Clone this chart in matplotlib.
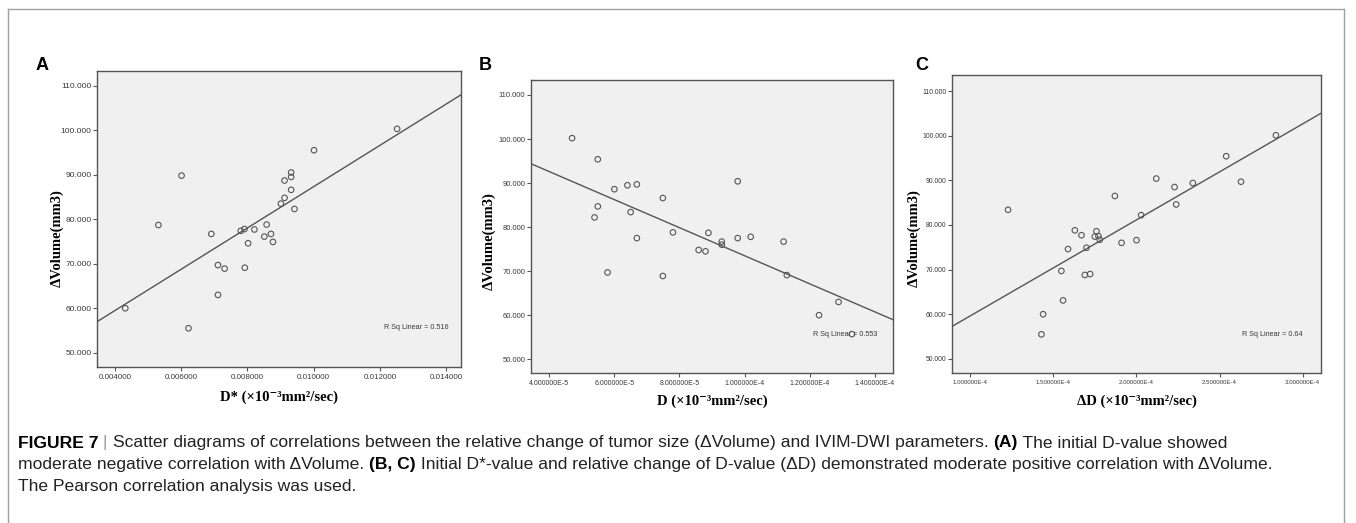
import numpy as np
import matplotlib
matplotlib.use("Agg")
import matplotlib.pyplot as plt
from matplotlib.ticker import FuncFormatter, MultipleLocator
from matplotlib.transforms import IdentityTransform
from matplotlib.lines import Line2D

# panel A: D* vs dVolume
a_x = [0.00431, 0.00531, 0.00601, 0.00622, 0.00691, 0.00711, 0.00711, 0.00731, 0.00780,
       0.00791, 0.00792, 0.00802, 0.00821, 0.00851, 0.00858, 0.00871, 0.00877, 0.00901,
       0.00912, 0.00912, 0.00932, 0.00932, 0.00932, 0.00942, 0.01001, 0.01252]
a_y = [60.0, 78.7, 89.8, 55.5, 76.7, 69.7, 63.0, 68.9, 77.4,
       77.8, 69.1, 74.6, 77.7, 76.1, 78.8, 76.7, 74.9, 83.5,
       84.8, 88.7, 89.5, 90.5, 86.6, 82.3, 95.5, 100.3]

# panel B: D vs dVolume
b_x = [4.70e-5, 5.49e-5, 6.00e-5, 6.40e-5, 6.69e-5, 5.49e-5, 5.39e-5, 6.50e-5, 7.49e-5,
       6.69e-5, 5.79e-5, 7.49e-5, 7.80e-5, 8.59e-5, 8.80e-5, 8.89e-5, 9.30e-5, 9.30e-5,
       9.79e-5, 9.79e-5, 1.019e-4, 1.120e-4, 1.130e-4, 1.229e-4, 1.289e-4, 1.330e-4]
b_y = [100.2, 95.4, 88.6, 89.5, 89.7, 84.7, 82.2, 83.4, 86.6,
       77.5, 69.7, 68.9, 78.8, 74.8, 74.5, 78.7, 76.7, 76.0,
       90.4, 77.5, 77.8, 76.7, 69.1, 60.0, 63.0, 55.7]

# panel C: delta D vs dVolume
c_x = [1.227e-4, 1.428e-4, 1.438e-4, 1.558e-4, 1.548e-4, 1.588e-4, 1.629e-4, 1.669e-4, 1.689e-4,
       1.721e-4, 1.699e-4, 1.749e-4, 1.759e-4, 1.771e-4, 1.779e-4, 1.870e-4, 1.910e-4, 2.000e-4,
       2.028e-4, 2.119e-4, 2.229e-4, 2.239e-4, 2.339e-4, 2.540e-4, 2.629e-4, 2.839e-4]
c_y = [83.4, 55.5, 60.0, 63.1, 69.7, 74.6, 78.8, 77.7, 68.8,
       69.0, 74.9, 77.4, 78.6, 77.5, 76.7, 86.5, 76.0, 76.6,
       82.2, 90.4, 88.5, 84.6, 89.4, 95.4, 89.7, 100.1]

r2_labels = ["R Sq Linear = 0.516", "R Sq Linear = 0.553", "R Sq Linear = 0.64"]
x_labels = ["D* (×10⁻³mm²/sec)", "D (×10⁻³mm²/sec)", "ΔD (×10⁻³mm²/sec)"]
panel_letters = ["A", "B", "C"]
y_label = "ΔVolume(mm3)"

GRAY = "#555555"
serif = ["Liberation Serif", "DejaVu Serif"]
sans = ["Liberation Sans", "DejaVu Sans"]

fig = plt.figure(figsize=(13.56, 5.23), dpi=100)


def sci(v, pos):
    s = "%.6E" % v
    mant, exp = s.split("E")
    return mant + "E" + str(int(exp))


def fixed(v, pos):
    return "%.6f" % v


panels = [
    dict(pos=[0.07153, 0.29828, 0.26844, 0.56597], x=a_x, y=a_y,
         xlim=(0.003456, 0.01445), ylim=(46.8, 113.3), step=0.002, fmt=fixed,
         xfs=5.8, yfs=6.1, r2=(0.967, 0.135), lx=36, ly=66, ylx=57, yly=238, xly=397),
    dict(pos=[0.39159, 0.28623, 0.26696, 0.5608], x=b_x, y=b_y,
         xlim=(3.437e-5, 1.4563e-4), ylim=(46.8, 113.4), step=2e-5, fmt=sci,
         xfs=5.0, yfs=5.5, r2=(0.958, 0.133), lx=479, ly=66, ylx=489, yly=241, xly=401),
    dict(pos=[0.70206, 0.28738, 0.27212, 0.5692], x=c_x, y=c_y,
         xlim=(8.896e-5, 3.1104e-4), ylim=(46.9, 113.6), step=5e-5, fmt=sci,
         xfs=4.4, yfs=4.9, r2=(0.950, 0.130), lx=915, ly=66, ylx=914, yly=238, xly=401),
]

H = 523
for i, p in enumerate(panels):
    ax = fig.add_axes(p["pos"])
    ax.set_facecolor("#f0f0f0")
    ax.scatter(p["x"], p["y"], s=16, facecolors="none", edgecolors=GRAY, linewidths=0.8, zorder=3)
    k, b = np.polyfit(p["x"], p["y"], 1)
    xx = np.array(p["xlim"])
    ax.plot(xx, k * xx + b, color=GRAY, lw=1.0, zorder=2)
    ax.set_xlim(p["xlim"])
    ax.set_ylim(p["ylim"])
    ax.xaxis.set_major_locator(MultipleLocator(p["step"]))
    ax.yaxis.set_major_locator(MultipleLocator(10))
    ax.xaxis.set_major_formatter(FuncFormatter(p["fmt"]))
    ax.yaxis.set_major_formatter(FuncFormatter(lambda v, pos: "%.3f" % v))
    ax.tick_params(axis="x", labelsize=p["xfs"], length=3, width=0.8, color=GRAY,
                   labelcolor="#3a3a3a", pad=2)
    ax.tick_params(axis="y", labelsize=p["yfs"], length=3, width=0.8, color=GRAY,
                   labelcolor="#3a3a3a", pad=1)
    for lab in ax.get_xticklabels() + ax.get_yticklabels():
        lab.set_family(sans)
    for sp in ax.spines.values():
        sp.set_color(GRAY)
        sp.set_linewidth(1.0)
    ax.text(p["r2"][0], p["r2"][1], r2_labels[i], transform=ax.transAxes, ha="right",
            va="center", fontsize=5.2, color="#3a3a3a", family=sans)
    # panel letter, axis titles placed in pixel coords
    fig.text(p["lx"] / 1356, 1 - p["ly"] / H, panel_letters[i], fontsize=13, fontweight="bold",
             family=sans, va="center", ha="left")
    fig.text(p["ylx"] / 1356, 1 - p["yly"] / H, y_label, rotation=90, fontsize=10.5,
             fontweight="bold", family=serif, ha="center", va="center",
             bbox=dict(facecolor="white", edgecolor="none", pad=1.5))
    x0, x1 = p["pos"][0], p["pos"][0] + p["pos"][2]
    fig.text((x0 + x1) / 2, 1 - p["xly"] / H, x_labels[i], fontsize=10.5, fontweight="bold",
             family=serif, ha="center", va="center")

# outer frame
frame = dict(color="#a0a0a0", lw=1.0, transform=fig.transFigure)
fig.add_artist(Line2D([8 / 1356, 8 / 1356], [0, 1 - 9 / H], **frame))
fig.add_artist(Line2D([8 / 1356, 1344 / 1356], [1 - 9 / H, 1 - 9 / H], **frame))
fig.add_artist(Line2D([1344 / 1356, 1344 / 1356], [0, 1 - 9 / H], **frame))

# caption with mixed bold runs
caption = [
    [("FIGURE 7", "bold", "black"), (" | ", "normal", "#999999"),
     ("Scatter diagrams of correlations between the relative change of tumor size (ΔVolume) and IVIM-DWI parameters. ", "normal", "#222222"),
     ("(A)", "bold", "black"), (" The initial D-value showed", "normal", "#222222")],
    [("moderate negative correlation with ΔVolume. ", "normal", "#222222"), ("(B, C)", "bold", "black"),
     (" Initial D*-value and relative change of D-value (ΔD) demonstrated moderate positive correlation with ΔVolume.", "normal", "#222222")],
    [("The Pearson correlation analysis was used.", "normal", "#222222")],
]
line_y = [443, 465, 487]
renderer = fig.canvas.get_renderer()
for runs, yy in zip(caption, line_y):
    xpos = 18
    for txt, weight, col in runs:
        t = fig.text(xpos, H - yy, txt, transform=IdentityTransform(), fontsize=12.6,
                     fontweight=weight, color=col, family=sans, va="center", ha="left")
        xpos += t.get_window_extent(renderer).width

fig.savefig("out.png", dpi=100)
